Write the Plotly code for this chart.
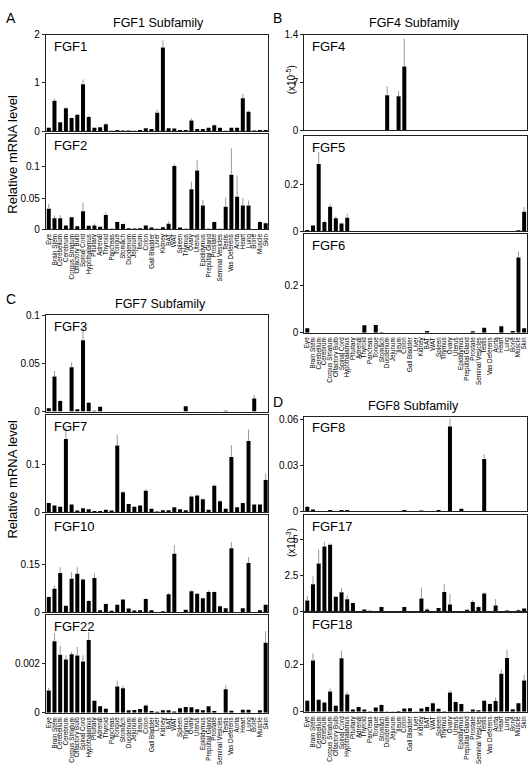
import plotly.graph_objects as go

tissues = ["Eye", "Brain Stem", "Cerebellum", "Cerebrum", "Corpus Striatum", "Olfactory Bulb",
           "Spinal Cord", "Hypothalamus", "Pituitary", "Adrenal", "Thyroid", "Pancreas", "Tongue",
           "Stomach", "Duodenum", "Jejunum", "Ileum", "Colon", "Gall Bladder", "Liver", "Kidney",
           "BAT", "WAT", "Spleen", "Thymus", "Ovary", "Uterus", "Epididymus", "Preputial Gland",
           "Prostate", "Seminal Vesicles", "Testis", "Vas Deferens", "Aorta", "Heart", "Lung",
           "Bone", "Muscle", "Skin"]

fgf1 = [0.07, 0.63, 0.18, 0.47, 0.27, 0.34, 0.97, 0.29, 0.07, 0.08, 0.14, 0.005, 0.02, 0.01, 0.01,
        0.005, 0.02, 0.06, 0.04, 0.38, 1.73, 0.06, 0.05, 0.02, 0.02, 0.22, 0.04, 0.04, 0.07, 0.12,
        0.07, 0.005, 0.07, 0.07, 0.68, 0.40, 0.01, 0.02, 0.02]
fgf1_err = [0.01, 0.04, 0.01, 0.03, 0.01, 0.01, 0.1, 0.02, 0.01, 0.01, 0.03, 0, 0, 0, 0, 0, 0, 0.01,
            0, 0.06, 0.15, 0, 0, 0, 0, 0.04, 0, 0, 0, 0.02, 0, 0, 0, 0, 0.09, 0.03, 0, 0, 0]

fgf2 = [0.033, 0.018, 0.018, 0.0065, 0.0195, 0.005, 0.029, 0.006, 0.0065, 0.0043, 0.023, 0.001,
        0.012, 0.0086, 0.002, 0.0015, 0.002, 0.0065, 0.003, 0.001, 0.0035, 0.009, 0.101, 0.003,
        0.001, 0.064, 0.094, 0.038, 0.001, 0.012, 0.001, 0.036, 0.087, 0.052, 0.038, 0.038, 0.0005,
        0.012, 0.01]
fgf2_err = [0.008, 0.004, 0.005, 0, 0.001, 0, 0.014, 0, 0.003, 0, 0.004, 0, 0.001, 0.001, 0, 0, 0,
            0.001, 0, 0, 0, 0.004, 0.004, 0, 0, 0.012, 0.016, 0.009, 0, 0.001, 0, 0.015, 0.042,
            0.034, 0.012, 0.008, 0, 0.001, 0.001]

fgf4 = [0, 0, 0, 0, 0, 0, 0, 0, 0, 0, 0, 0, 0, 0, 5.1, 0, 4.95, 9.3, 0, 0, 0, 0, 0, 0, 0, 0, 0, 0,
        0, 0, 0, 0, 0, 0, 0, 0, 0, 0, 0]
fgf4_err = [0, 0, 0, 0, 0, 0, 0, 0, 0, 0, 0, 0, 0, 0, 1.3, 0, 0.75, 4.1, 0, 0, 0, 0, 0, 0, 0, 0, 0,
            0, 0, 0, 0, 0, 0, 0, 0, 0, 0, 0, 0]

fgf5 = [0.006, 0.025, 0.285, 0.04, 0.104, 0.056, 0.033, 0.058, 0.002, 0.002, 0.002, 0, 0.002, 0, 0,
        0, 0.001, 0, 0, 0, 0, 0, 0, 0, 0, 0.001, 0, 0, 0, 0, 0.001, 0, 0.001, 0, 0.001, 0.001, 0,
        0.005, 0.083]
fgf5_err = [0, 0, 0.05, 0.005, 0.012, 0.008, 0.005, 0.017, 0, 0, 0, 0, 0, 0, 0, 0, 0, 0, 0, 0, 0,
            0, 0, 0, 0, 0, 0, 0, 0, 0, 0, 0, 0, 0, 0, 0, 0, 0, 0.02]

fgf6 = [0.019, 0, 0, 0, 0, 0, 0, 0, 0, 0, 0.032, 0, 0.033, 0.003, 0, 0, 0, 0, 0, 0, 0, 0.008, 0, 0,
        0, 0, 0, 0, 0, 0.007, 0, 0.022, 0, 0, 0.028, 0, 0.008, 0.32, 0.019]
fgf6_err = [0, 0, 0, 0, 0, 0, 0, 0, 0, 0, 0, 0, 0, 0, 0, 0, 0, 0, 0, 0, 0, 0, 0, 0, 0, 0, 0, 0, 0,
            0, 0, 0, 0, 0, 0, 0, 0, 0.026, 0]

fgf3 = [0.0035, 0.0365, 0.011, 0, 0.046, 0.0025, 0.074, 0.0092, 0.001, 0.005, 0, 0, 0, 0, 0, 0, 0,
        0, 0, 0, 0, 0, 0, 0, 0.0055, 0, 0, 0, 0, 0, 0, 0.001, 0, 0, 0, 0, 0.0137, 0, 0]
fgf3_err = [0, 0.0055, 0.001, 0, 0.005, 0, 0.0135, 0.001, 0, 0, 0, 0, 0, 0, 0, 0, 0, 0, 0, 0, 0, 0,
            0, 0, 0, 0, 0, 0, 0, 0, 0, 0, 0, 0, 0, 0, 0.0033, 0, 0]

fgf7 = [0.019, 0.014, 0.011, 0.155, 0.016, 0.003, 0.008, 0.006, 0.002, 0.002, 0.005, 0.003, 0.141,
        0.042, 0.017, 0.011, 0.014, 0.045, 0.007, 0.001, 0.004, 0.004, 0.01, 0.006, 0.004, 0.033,
        0.035, 0.027, 0.005, 0.056, 0.023, 0.007, 0.117, 0.01, 0.019, 0.151, 0.016, 0.016, 0.068]
fgf7_err = [0.001, 0, 0, 0.027, 0, 0, 0, 0, 0, 0, 0, 0, 0.023, 0.003, 0, 0, 0, 0.004, 0, 0, 0, 0, 0,
            0, 0, 0.002, 0.002, 0.002, 0, 0.003, 0.002, 0, 0.025, 0, 0, 0.024, 0, 0, 0.014]

fgf10 = [0.048, 0.074, 0.123, 0.021, 0.105, 0.121, 0.103, 0.036, 0.107, 0.007, 0.026, 0.005, 0.024,
         0.04, 0.012, 0.006, 0.007, 0.042, 0.007, 0, 0.004, 0.057, 0.183, 0.001, 0.008, 0.066,
         0.058, 0.044, 0.064, 0.064, 0.019, 0.013, 0.2, 0.001, 0.013, 0.154, 0, 0.007, 0.024]
fgf10_err = [0.002, 0.01, 0.018, 0, 0.02, 0.02, 0.003, 0.003, 0.015, 0, 0.003, 0, 0, 0.002, 0, 0, 0,
             0.003, 0, 0, 0, 0.004, 0.027, 0, 0, 0.003, 0, 0, 0.005, 0.002, 0.003, 0, 0.02, 0, 0,
             0.019, 0, 0, 0]

fgf22 = [0.00091, 0.0029, 0.00235, 0.00216, 0.00237, 0.00232, 0.00208, 0.00295, 0.00049, 0.00027,
         0.00017, 0, 0.00107, 0.001, 0.0001, 0.00012, 0.00016, 0.0003, 0.00007, 0.00004, 0.0001,
         0.0001, 0.00005, 0.00019, 0.00024, 0.00023, 0.00015, 0.0001, 0.00027, 0.00007, 0, 0.00096,
         0.00008, 0, 0.00013, 0.00013, 0, 0.0001, 0.00284]
fgf22_err = [0.0001, 0.00033, 0.00036, 0.00017, 0.0001, 0.00035, 0.00025, 0.00032, 0, 0, 0, 0,
             0.00024, 0.0001, 0, 0, 0, 0.00004, 0, 0, 0, 0, 0, 0, 0, 0, 0, 0, 0, 0, 0, 0.00015, 0,
             0, 0, 0, 0, 0, 0.00047]

fgf8 = [0.0028, 0.001, 0, 0, 0.0006, 0, 0.0006, 0.0006, 0, 0, 0, 0, 0, 0, 0, 0, 0, 0.0006, 0, 0,
        0.0003, 0, 0, 0.0006, 0, 0.0555, 0, 0.0015, 0, 0, 0, 0.0342, 0, 0, 0, 0, 0, 0, 0]
fgf8_err = [0.0003, 0, 0, 0, 0, 0, 0, 0, 0, 0, 0, 0, 0, 0, 0, 0, 0, 0, 0, 0, 0, 0, 0, 0, 0, 0.0051,
            0, 0, 0, 0, 0, 0.0032, 0, 0, 0, 0, 0, 0, 0]

fgf17 = [0.75, 1.89, 3.32, 4.5, 4.61, 1.02, 1.32, 0.84, 0.59, 0, 0.14, 0.05, 0, 0.3, 0.02, 0, 0, 0.3,
         0.03, 0.03, 0.89, 0.14, 0, 0.23, 1.34, 0.48, 0, 0.02, 0.11, 0.66, 0.3, 1.25, 0, 0.41, 0,
         0.07, 0, 0.09, 0.2]
fgf17_err = [0.32, 0.54, 0.98, 0.32, 0.1, 0.05, 0.29, 0.29, 0.05, 0, 0, 0, 0, 0.03, 0, 0, 0, 0.03,
             0, 0, 0.77, 0.1, 0, 0.03, 0.55, 0.72, 0, 0, 0, 0.14, 0.09, 0.09, 0, 0.45, 0, 0, 0,
             0.05, 0.05]

fgf18 = [0.047, 0.218, 0.051, 0.04, 0.086, 0.026, 0.228, 0.074, 0.01, 0.021, 0.01, 0.003, 0.019,
         0.029, 0.002, 0.002, 0.004, 0.014, 0.015, 0.001, 0.014, 0.021, 0.037, 0.013, 0.003, 0.082,
         0.042, 0.033, 0.001, 0.01, 0.007, 0.047, 0.033, 0.046, 0.162, 0.229, 0.011, 0.037, 0.133]
fgf18_err = [0.004, 0.031, 0.004, 0.002, 0.014, 0.002, 0.032, 0.01, 0, 0.002, 0, 0, 0, 0.003, 0, 0,
             0, 0.002, 0, 0, 0, 0.002, 0.003, 0, 0, 0.01, 0.002, 0.002, 0, 0, 0, 0.004, 0.003,
             0.015, 0.018, 0.035, 0, 0.002, 0.023]

W, H = 529, 772
FONT = "Arial, Liberation Sans, Helvetica, sans-serif"


def fx(p):
    return p / W


def fy(p):
    return 1 - p / H


LEFT = (45, 268)
RIGHT = (304, 527)

# (label, values, errors, column, top px, bottom px, yrange, tickvals, ticktext, show x labels)
panels = [
    ("FGF1", fgf1, fgf1_err, LEFT, 29, 127, [0, 2], [0, 1, 2], ["0", "1", "2"], False),
    ("FGF2", fgf2, fgf2_err, LEFT, 130, 227, [0, 0.152], [0, 0.05, 0.1], ["0", "0.05", "0.1"], True),
    ("FGF4", fgf4, fgf4_err, RIGHT, 29, 126, [0, 14], [0, 7, 14], ["0", "7", "1.4"], False),
    ("FGF5", fgf5, fgf5_err, RIGHT, 132, 229, [0, 0.403], [0, 0.2], ["0", "0.2"], False),
    ("FGF6", fgf6, fgf6_err, RIGHT, 232, 332, [0, 0.418], [0, 0.2], ["0", "0.2"], True),
    ("FGF3", fgf3, fgf3_err, LEFT, 314, 412, [0, 0.1], [0, 0.05, 0.1], ["0", "0.05", "0.1"], False),
    ("FGF7", fgf7, fgf7_err, LEFT, 415, 514, [0, 0.207], [0, 0.1], ["0", "0.1"], False),
    ("FGF10", fgf10, fgf10_err, LEFT, 517, 616, [0, 0.304], [0, 0.15], ["0", "0.15"], False),
    ("FGF22", fgf22, fgf22_err, LEFT, 619, 718, [0, 0.00395], [0, 0.002], ["0", "0.002"], True),
    ("FGF8", fgf8, fgf8_err, RIGHT, 417, 513, [0, 0.062], [0, 0.03, 0.06], ["0", "0.03", "0.06"], False),
    ("FGF17", fgf17, fgf17_err, RIGHT, 517, 615, [0, 6.68], [0, 2.5, 5], ["0", "2.5", "5"], False),
    ("FGF18", fgf18, fgf18_err, RIGHT, 617, 717, [0, 0.418], [0, 0.2], ["0", "0.2"], True),
]

fig = go.Figure()
layout = dict(
    width=W, height=H, autosize=False,
    margin=dict(l=0, r=0, t=0, b=0),
    paper_bgcolor="white", plot_bgcolor="white",
    showlegend=False, bargap=0.3,
    font=dict(family=FONT, color="black"),
)
annotations = []
idx = list(range(len(tissues)))

for n, (label, vals, errs, col, top, bot, yr, tv, tt, showx) in enumerate(panels, start=1):
    sfx = "" if n == 1 else str(n)
    fig.add_trace(go.Bar(
        x=idx, y=vals, xaxis="x" + sfx, yaxis="y" + sfx,
        marker=dict(color="black", line=dict(width=0)),
        error_y=dict(type="data", array=errs, arrayminus=[0] * len(errs), symmetric=False,
                     color="#9a9a9a", thickness=1, width=0),
    ))
    layout["xaxis" + sfx] = dict(
        domain=[fx(col[0]), fx(col[1])], anchor="y" + sfx, range=[-0.5, len(tissues) - 0.5],
        showline=True, linecolor="#222", linewidth=1, mirror=True,
        showgrid=False, zeroline=False, ticks="",
        tickvals=idx, ticktext=tissues, tickangle=-90, ticklabeloverflow="allow",
        ticklabelstandoff=1,
        showticklabels=showx, tickfont=dict(size=6.3, family=FONT),
    )
    layout["yaxis" + sfx] = dict(
        domain=[fy(bot), fy(top)], anchor="x" + sfx, range=yr,
        showline=True, linecolor="#222", linewidth=1, mirror=True,
        showgrid=False, zeroline=False, ticks="outside", ticklen=3, tickcolor="#222",
        tickvals=tv, ticktext=tt, tickfont=dict(size=10, family=FONT),
    )
    annotations.append(dict(
        text=label, x=fx(col[0] + 6), y=fy(top + 2), xref="paper", yref="paper",
        xanchor="left", yanchor="top", showarrow=False, font=dict(size=13, family=FONT),
    ))

# panel letters and group titles
for letter, px, py in [("A", 3, 12), ("B", 271, 12), ("C", 3, 298), ("D", 271, 402)]:
    annotations.append(dict(text=letter, x=fx(px), y=fy(py), xref="paper", yref="paper",
                            xanchor="left", yanchor="middle", showarrow=False,
                            font=dict(size=14, family=FONT)))
for title, px, py in [("FGF1 Subfamily", 158, 17), ("FGF4 Subfamily", 414, 17),
                      ("FGF7 Subfamily", 160, 303), ("FGF8 Subfamily", 413, 406)]:
    annotations.append(dict(text=title, x=fx(px), y=fy(py), xref="paper", yref="paper",
                            xanchor="center", yanchor="middle", showarrow=False,
                            font=dict(size=12.5, family=FONT)))
for title, px, py in [("Relative mRNA level", 12, 150), ("Relative mRNA level", 12, 480)]:
    annotations.append(dict(text=title, x=fx(px), y=fy(py), xref="paper", yref="paper",
                            xanchor="center", yanchor="middle", showarrow=False, textangle=-90,
                            font=dict(size=13, family=FONT)))
for title, px, py in [("(x10<sup>-5</sup>)", 290, 75), ("(x10<sup>-3</sup>)", 290, 545)]:
    annotations.append(dict(text=title, x=fx(px), y=fy(py), xref="paper", yref="paper",
                            xanchor="center", yanchor="middle", showarrow=False, textangle=-90,
                            font=dict(size=10, family=FONT)))

layout["annotations"] = annotations
fig.update_layout(**layout)
fig.write_html(
    "out.html",
    config={"displayModeBar": False, "staticPlot": True},
    post_script="document.body.style.margin='0px';document.body.style.overflow='hidden';",
)
